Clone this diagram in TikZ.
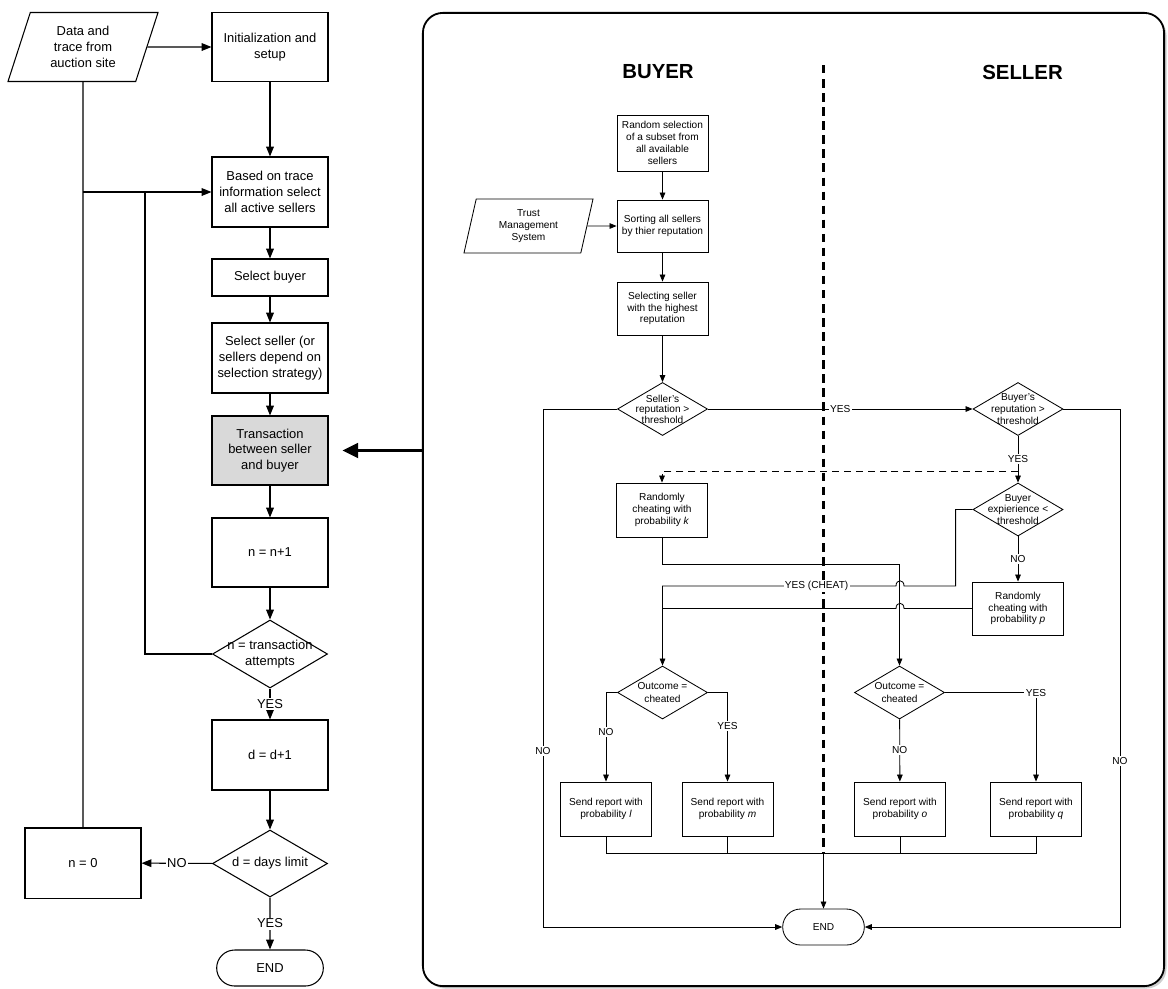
\documentclass[tikz,border=0pt]{standalone}
\usepackage{fontspec}
\setmainfont{Liberation Sans}
\usepackage{tikz}
\usepackage{xcolor}
\usetikzlibrary{shapes.geometric,shapes.misc,arrows.meta,calc,shadows}
\definecolor{transGray}{RGB}{217,217,217}
\definecolor{shadowGray}{RGB}{160,160,160}

\begin{document}
\begin{tikzpicture}[x=0.025cm, y=-0.025cm, font=\fontsize{9.2}{11.2}\selectfont, line width=0.75pt,
    >={Triangle[length=7pt,width=5.5pt]},
    box/.style={rectangle, draw, align=center, minimum width=2.9cm, minimum height=1.725cm, inner sep=1pt},
    iobox/.style={trapezium, draw, align=center, trapezium stretches body, trapezium left angle=63, trapezium right angle=117, minimum width=3.75cm, minimum height=1.725cm, inner sep=1pt},
    dia/.style={diamond, draw, inner sep=0pt, minimum width=2.875cm, minimum height=1.7cm},
    term/.style={rounded rectangle, draw, minimum width=2.9cm, minimum height=0.9cm},
    lbl/.style={fill=white, inner sep=1pt},
    every label/.style={align=center}]
                    \useasboundingbox (0,0) rectangle (1168,988);

                    % Main loop
                    \node[iobox] (data) at (83,47) {Data and\\trace from\\auction site};
                    \node[box] (init) at (270,47) {Initialization and\\setup};
                    \node[box, minimum height=1.75cm] (based) at (270,192) {Based on trace\\information select\\all active sellers};
                    \node[box, minimum height=0.925cm] (buyer) at (270,277.5) {Select buyer};
                    \node[box, minimum height=1.75cm] (seller) at (270,358) {Select seller (or\\sellers depend on\\selection strategy)};
                    \node[box, fill=transGray] (trans) at (270,450.5) {Transaction\\between seller\\and buyer};
                    \node[box] (inc) at (270,552.5) {n = n+1};
                    \node[dia, label=center:{n = transaction\\attempts}] (attempts) at (270,654) {};
                    \node[box, minimum height=1.75cm] (dinc) at (270,755) {d = d+1};
                    \node[dia, minimum height=1.675cm, label=center:{d = days limit}] (days) at (270,863.5) {};
                    \node[box, minimum height=1.75cm] (reset) at (83,863) {n = 0};
                    \node[term] (end1) at (270,968) {END};

                    % Edges
                    \draw[->] (data.east) -- (init.west);
                    \draw[->] (init) -- (based);
                    \draw[->] (based) -- (buyer);
                    \draw[->] (buyer) -- (seller);
                    \draw[->] (seller) -- (trans);
                    \draw[->] (trans) -- (inc);
                    \draw[->] (inc) -- (attempts);
                    \draw[->] (attempts) -- node[lbl]{YES} (dinc);
                    \draw[->] (dinc) -- (days);
                    \draw[->] (days) -- node[lbl]{YES} (end1);
                    \draw[->] (days) -- node[lbl]{NO} (reset);
                    \draw (data.south) -- (reset.north);
                    \draw[->] (data.south |- based.west) -- (based.west);
                    \coordinate (loop) at (145,192);
                    \draw (attempts.west) -| (loop);

                    % Transaction panel
                    \node[draw, fill=white, rounded corners=0.5cm, line width=1.3pt, minimum width=18.525cm, minimum height=24.325cm,
                        drop shadow={shadow xshift=0.06cm, shadow yshift=-0.06cm, fill=shadowGray}] (panel) at (793.5,499.5) {};
                    \draw[->, line width=1.8pt, >={Triangle[length=11pt,width=10.5pt]}, shorten >=0.35cm] (panel.west |- trans.east) -- (trans.east);

                    \begin{scope}[font=\fontsize{7.2}{8.4}\selectfont, line width=0.6pt, >={Triangle[length=5pt,width=4pt]},
                        pbox/.style={rectangle, draw, align=center, minimum width=2.275cm, minimum height=1.35cm, inner sep=1pt},
                        pdia/.style={diamond, draw, inner sep=0pt, minimum width=2.25cm, minimum height=1.325cm}]
                        % Titles and divider
                        \node[font=\bfseries\fontsize{14.5}{17}\selectfont] (buyerT) at (658,72) {BUYER};
                        \node[font=\bfseries\fontsize{14.5}{17}\selectfont] (sellerT) at (1022.5,72) {SELLER};
                        \coordinate (divtop) at (823.5,65);
                        \coordinate (join) at (823.5,853);
                        \draw[dash pattern=on 6pt off 4pt, line width=1.6pt] (divtop) -- (join);

                        % Buyer side
                        \node[pbox, minimum height=1.4cm] (rsel) at (662.5,143) {Random selection\\of a subset from\\all available\\sellers};
                        \node[pbox, minimum height=1.3cm] (sort) at (662.5,226) {Sorting all sellers\\by thier reputation};
                        \node[iobox, trapezium left angle=71, trapezium right angle=109, minimum width=3.225cm, minimum height=1.35cm] (tms) at (528.5,226) {Trust\\Management\\System};
                        \node[pbox, minimum height=1.325cm] (best) at (662.5,308.5) {Selecting seller\\with the highest\\reputation};
                        \node[pdia, label={[font=\fontsize{7.2}{7.4}\selectfont]center:{Seller’s\\reputation >\\threshold}}] (srep) at (662.5,409) {};
                        \node[pbox] (cheatk) at (662,510) {Randomly\\cheating with\\probability \textit{k}};
                        \node[pdia, label={[font=\fontsize{7.2}{9}\selectfont]center:{Outcome =\\cheated}}] (bout) at (662.5,692.5) {};
                        \node[pbox] (repl) at (606,809) {Send report with\\probability \textit{l}};
                        \node[pbox] (repm) at (727.5,809) {Send report with\\probability \textit{m}};

                        % Seller side
                        \node[pdia, label=center:{Buyer's\\reputation >\\threshold}] (brep) at (1018,409) {};
                        \node[pdia, label=center:{Buyer\\expierience <\\threshold}] (bexp) at (1018,509.5) {};
                        \node[pbox, minimum height=1.325cm] (cheatp) at (1018,608.5) {Randomly\\cheating with\\probability \textit{p}};
                        \node[pdia, label={[font=\fontsize{7.2}{9}\selectfont]center:{Outcome =\\cheated}}] (sout) at (899.5,692.5) {};
                        \node[pbox] (repo) at (900,809) {Send report with\\probability \textit{o}};
                        \node[pbox] (repq) at (1036,809) {Send report with\\probability \textit{q}};
                        \node[term, minimum width=2.275cm] (end2) at (823.5,927) {END};

                        % Edges
                        \draw[->] (rsel) -- (sort);
                        \draw[->] (tms.east) -- (sort.west);
                        \draw[->] (sort) -- (best);
                        \draw[->] (best) -- (srep);
                        \draw[->] (srep.east) -- node[lbl]{YES} (brep.west);
                        \coordinate (nol) at (543,927);
                        \coordinate (nor) at (1120,927);
                        \draw[->] (srep.west) -| node[lbl, pos=0.83]{NO} (nol) -- (end2.west);
                        \draw[->] (brep.east) -| node[lbl, pos=0.84]{NO} (nor) -- (end2.east);
                        \draw[->] (brep) -- node[lbl]{YES} (bexp);
                        \draw[->, dash pattern=on 5pt off 3.5pt] ($(brep.south)!0.77!(bexp.north)$) -| (cheatk.north);
                        \draw[->] (bexp) -- node[lbl]{NO} (cheatp);
                        \draw[->] (bexp.west) -- ++(-17,0) |- (904,586) .. controls (904,579) and (896,579) .. (896,586) -| node[lbl, pos=0.17]{YES (CHEAT)} (bout.north);
                        \draw (cheatp.west) -- (904,608.5) .. controls (904,601.5) and (896,601.5) .. (896,608.5) -- (bout.north |- cheatp.west);
                        \draw[->] (cheatk.south) -- ++(0,27) -| (sout.north);
                        \draw[->] (bout.west) -| node[lbl, pos=0.72]{NO} (repl.north);
                        \draw[->] (bout.east) -| node[lbl, pos=0.69]{YES} (repm.north);
                        \draw[->] (sout) -- node[lbl]{NO} (repo);
                        \draw[->] (sout.east) -| node[lbl, pos=0.5]{YES} (repq.north);
                        \draw (repl.south) |- (join) -| (repq.south);
                        \draw (repm.south) -- (repm.south |- join);
                        \draw (repo.south) -- (repo.south |- join);
                        \draw[->] (join) -- (end2.north);
                    \end{scope}
                \end{tikzpicture}
\end{document}
